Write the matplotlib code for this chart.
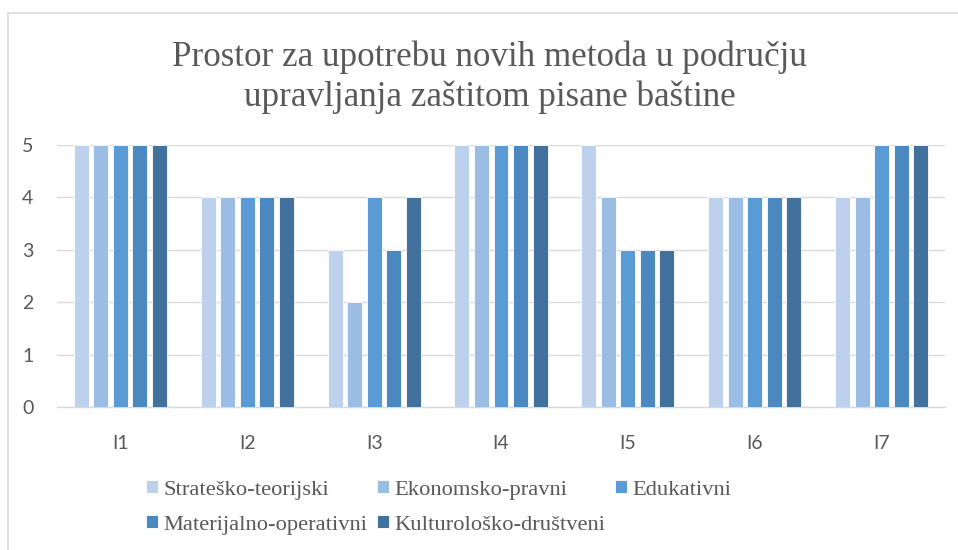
import matplotlib.pyplot as plt
import matplotlib.patches as patches
import numpy as np

# Data
categories = ["I1", "I2", "I3", "I4", "I5", "I6", "I7"]
series_names = ["Strateško-teorijski", "Ekonomsko-pravni", "Edukativni",
                "Materijalno-operativni", "Kulturološko-društveni"]
strat = [5, 4, 3, 5, 5, 4, 4]
ekon = [5, 4, 2, 5, 4, 4, 4]
eduk = [5, 4, 4, 5, 3, 4, 5]
mater = [5, 4, 3, 5, 3, 4, 5]
kult = [5, 4, 4, 5, 3, 4, 5]
values = [strat, ekon, eduk, mater, kult]
colors = ["#BDD1EC", "#9BBCE3", "#5B9BD5", "#4C88C0", "#41719C"]

grey = "#595959"
gridc = "#D9D9D9"

fig = plt.figure(figsize=(9.58, 5.5), dpi=100)
ax = fig.add_axes([57 / 958, 1 - 407 / 550, (945 - 57) / 958, (407 - 145) / 550])

x = np.arange(len(categories))
step = 0.154
width = 0.118
bars = []
for i, (name, vals, col) in enumerate(zip(series_names, values, colors)):
    b = ax.bar(x + (i - 2) * step, vals, width=width, color=col,
               edgecolor="white", linewidth=0.6, label=name, zorder=3)
    bars.append(b)

ax.set_xlim(-0.5, len(categories) - 0.5)
ax.set_ylim(0, 5)
ax.set_yticks(range(6))
ax.grid(axis="y", color=gridc, linewidth=1, zorder=0)
for s in ["top", "right", "left"]:
    ax.spines[s].set_visible(False)
ax.spines["bottom"].set_color(gridc)
ax.spines["bottom"].set_linewidth(1)
ax.set_xticks(x)
ax.set_xticklabels(categories)
ax.tick_params(axis="both", length=0, labelcolor=grey, labelsize=14)
ax.tick_params(axis="x", pad=20)
ax.tick_params(axis="y", pad=17)
for lbl in ax.get_xticklabels() + ax.get_yticklabels():
    lbl.set_family("Lato")

fig.text(0.511, 1 - 77 / 550, "Prostor za upotrebu novih metoda u području\nupravljanja zaštitom pisane baštine",
         ha="center", va="center", fontsize=25.2, color=grey, family="Liberation Serif",
         linespacing=1.27)

# legend filled column-wise, so reorder to get row-wise order
order = [0, 3, 1, 4, 2]
leg = fig.legend([bars[k] for k in order], [series_names[k] for k in order],
                 ncol=3, loc="upper left", bbox_to_anchor=(126 / 958, 1 - 460 / 550),
                 frameon=False, handlelength=0.5, handleheight=0.5, handletextpad=0.25,
                 columnspacing=0.45, labelspacing=0.7,
                 prop={"family": "Liberation Serif", "size": 16.2})
for t in leg.get_texts():
    t.set_color(grey)

frame = patches.Rectangle((8 / 958, -0.1), 2, 1 - 13 / 550 + 0.1, transform=fig.transFigure,
                          fill=False, edgecolor=gridc, linewidth=1.2)
fig.patches.append(frame)

fig.savefig("out.png", dpi=100)
